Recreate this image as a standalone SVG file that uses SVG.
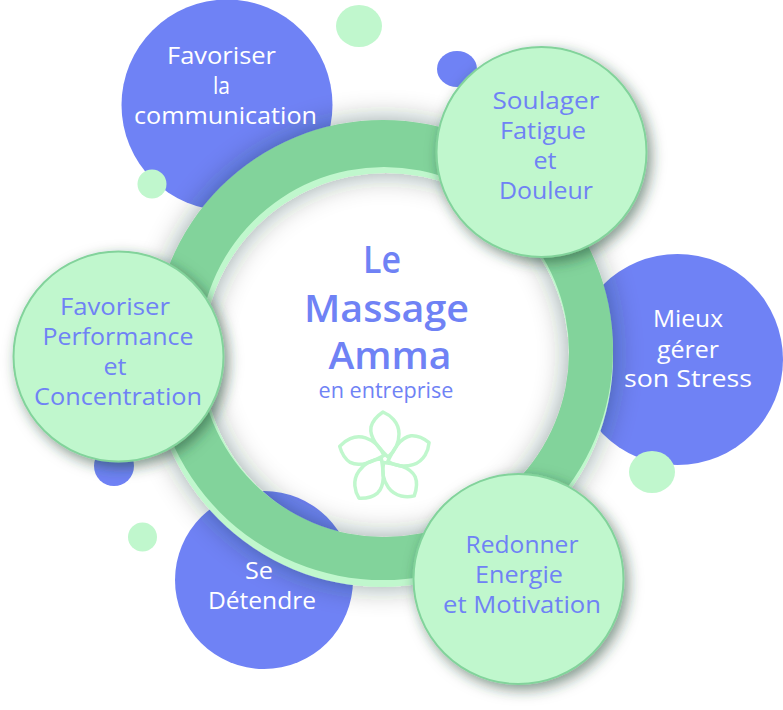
<svg xmlns="http://www.w3.org/2000/svg" width="783" height="710" viewBox="0 0 783 710">
<defs>
<filter id="sh" x="-25%" y="-25%" width="160%" height="160%"><feDropShadow dx="4" dy="5" stdDeviation="7" flood-color="#24452f" flood-opacity="0.55"/></filter>
<filter id="ringsh" x="-15%" y="-15%" width="130%" height="130%"><feDropShadow dx="0" dy="0" stdDeviation="14" flood-color="#1f2f28" flood-opacity="0.42"/></filter>
<path id="petal" d="M3 -2C-4 -9 -16 -20 -14 -32C-12 -40 -5 -45 -2 -47C5 -44 14 -37 14 -25C14 -15 9 -7 3 -2Z"/>
</defs>
<style>
.blue{fill:#6f82f5}
.mint{fill:#c0f7cd}
.green{fill:#c0f7cd;stroke:#82d39b;stroke-width:2;filter:url(#sh)}
text{font-family:"Open Sans","Liberation Sans",sans-serif;text-anchor:middle;font-size:23px}
.w{fill:#fff}
.b{fill:#6f82f5}
.t{font-size:37px;font-weight:600}
.s{font-size:21px}
.f{fill:none;stroke:#c0f7cd;stroke-width:3.500;stroke-linejoin:round}
</style>
<g id="node-communication"><circle class="blue" cx="227" cy="105" r="105.500"/></g>
<g id="node-stress"><circle class="blue" cx="677.500" cy="359.500" r="105.500"/></g>
<g id="node-detendre"><circle class="blue" cx="264" cy="580" r="89"/></g>
<g id="ring" filter="url(#ringsh)">
<path class="mint" fill-rule="evenodd" d="M151 356a231 231 0 1 0 462 0a231 231 0 1 0-462 0ZM203 356a183 183 0 1 0 366 0a183 183 0 1 0-366 0Z"/>
<path fill="#82d39b" fill-rule="evenodd" d="M153 350a230 230 0 1 0 460 0a230 230 0 1 0-460 0ZM199 352a185 185 0 1 0 370 0a185 185 0 1 0-370 0Z"/>
</g>
<g id="decor">
<ellipse class="mint" cx="359" cy="26" rx="23" ry="21"/>
<ellipse class="blue" cx="457" cy="69" rx="20" ry="18"/>
<circle class="blue" cx="114" cy="466" r="20"/>
<circle class="mint" cx="142.500" cy="537" r="14.500"/>
<ellipse class="mint" cx="652" cy="472" rx="23" ry="21"/>
<circle class="mint" cx="152" cy="184" r="14.500"/>
</g>
<g id="labels-blue">
<text class="w" x="221.500" y="64" textLength="109" lengthAdjust="spacingAndGlyphs">Favoriser</text>
<text class="w" x="221.500" y="94" textLength="17" lengthAdjust="spacingAndGlyphs">la</text>
<text class="w" x="225.500" y="124" textLength="183" lengthAdjust="spacingAndGlyphs">communication</text>
<text class="w" x="688" y="327" textLength="70" lengthAdjust="spacingAndGlyphs">Mieux</text>
<text class="w" x="688" y="358" textLength="62" lengthAdjust="spacingAndGlyphs">gérer</text>
<text class="w" x="688" y="387" textLength="128" lengthAdjust="spacingAndGlyphs">son Stress</text>
<text class="w" x="259" y="579" textLength="28" lengthAdjust="spacingAndGlyphs">Se</text>
<text class="w" x="262" y="609" textLength="108" lengthAdjust="spacingAndGlyphs">Détendre</text>
</g>
<g id="node-center">
<text class="b t" x="382" y="273" textLength="38" lengthAdjust="spacingAndGlyphs">Le</text>
<text class="b t" x="386.500" y="322" textLength="165" lengthAdjust="spacingAndGlyphs">Massage</text>
<text class="b t" x="390" y="369" textLength="123" lengthAdjust="spacingAndGlyphs">Amma</text>
<text class="b s" x="386" y="398" textLength="135" lengthAdjust="spacingAndGlyphs">en entreprise</text>
<g id="flower" transform="translate(385 459)">
<use href="#petal" class="f"/>
<use href="#petal" class="f" transform="rotate(72)"/>
<use href="#petal" class="f" transform="rotate(144)"/>
<use href="#petal" class="f" transform="rotate(216)"/>
<use href="#petal" class="f" transform="rotate(288)"/>
</g>
</g>
<g id="node-soulager"><circle class="green" cx="541.500" cy="152" r="105"/>
<text class="b" x="546" y="109" textLength="107" lengthAdjust="spacingAndGlyphs">Soulager</text>
<text class="b" x="543" y="139" textLength="86" lengthAdjust="spacingAndGlyphs">Fatigue</text>
<text class="b" x="545" y="169" textLength="23" lengthAdjust="spacingAndGlyphs">et</text>
<text class="b" x="546" y="199" textLength="94" lengthAdjust="spacingAndGlyphs">Douleur</text></g>
<g id="node-performance"><circle class="green" cx="118.500" cy="356.500" r="105"/>
<text class="b" x="115" y="315" textLength="110" lengthAdjust="spacingAndGlyphs">Favoriser</text>
<text class="b" x="118" y="345" textLength="151" lengthAdjust="spacingAndGlyphs">Performance</text>
<text class="b" x="115" y="375" textLength="23" lengthAdjust="spacingAndGlyphs">et</text>
<text class="b" x="118" y="405" textLength="168" lengthAdjust="spacingAndGlyphs">Concentration</text></g>
<g id="node-energie"><circle class="green" cx="518.500" cy="579" r="105"/>
<text class="b" x="522" y="553" textLength="113" lengthAdjust="spacingAndGlyphs">Redonner</text>
<text class="b" x="519" y="583" textLength="88" lengthAdjust="spacingAndGlyphs">Energie</text>
<text class="b" x="522" y="613" textLength="158" lengthAdjust="spacingAndGlyphs">et Motivation</text></g>
</svg>
